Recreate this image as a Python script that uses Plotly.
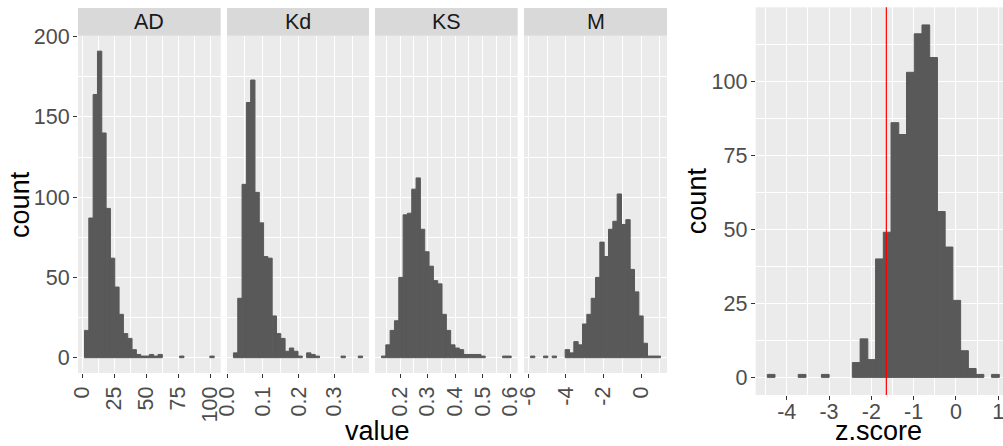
import plotly.graph_objects as go

# ---------------- data ----------------
facet_names = ["AD", "Kd", "KS", "M"]

# histogram bins (30 bins each): first bin left edge, bin width, counts
ad_start, ad_width = 1.9, 3.379
ad_counts = [17, 87, 164, 191, 140, 93, 62, 44, 27, 15, 12, 5, 2, 1, 1,
             2, 1, 2, 0, 0, 0, 0, 1, 0, 0, 0, 0, 0, 0, 1]

kd_start, kd_width = 0.0178, 0.01203
kd_counts = [3, 37, 108, 159, 173, 103, 84, 63, 62, 26, 15, 12, 4, 6, 4,
             1, 0, 3, 2, 1, 0, 0, 0, 0, 0, 1, 0, 0, 0, 1]

ks_start, ks_width = 0.1327, 0.01572
ks_counts = [1, 8, 17, 23, 50, 89, 90, 105, 112, 80, 66, 57, 48, 46, 27,
             17, 8, 6, 5, 2, 2, 2, 2, 1, 0, 0, 0, 0, 1, 1]

m_start, m_width = -5.883, 0.2307
m_counts = [1, 0, 0, 1, 0, 1, 0, 0, 5, 3, 10, 8, 21, 27, 37,
            50, 72, 63, 80, 85, 102, 83, 86, 55, 41, 26, 9, 1, 1, 1]

z_start, z_width = -4.459, 0.1828
z_counts = [1, 0, 0, 0, 1, 0, 0, 1, 0, 0, 0, 5, 13, 6, 40,
            49, 86, 82, 103, 116, 119, 108, 56, 44, 26, 9, 3, 1, 0, 1]
z_threshold = -1.645

left_yticks = [0, 50, 100, 150, 200]
right_yticks = [0, 25, 50, 75, 100]
ad_xticks = [0, 25, 50, 75, 100]
kd_xticks = [0.0, 0.1, 0.2, 0.3]
ks_xticks = [0.2, 0.3, 0.4, 0.5, 0.6]
m_xticks = [-6, -4, -2, 0]
z_xticks = [-4, -3, -2, -1, 0, 1]

# ---------------- styling / layout ----------------
W, H = 1003, 446
BAR = "#595959"
PANEL = "#EBEBEB"
STRIP = "#D9D9D9"
TICKCOL = "#4D4D4D"
FONT = "Liberation Sans, Arial, sans-serif"
TICKFS = 21.5
TITLEFS = 27


def px_x(p):
    return p / W


def px_y(p):
    return 1 - p / H


def centers(start, width, counts):
    return [start + (i + 0.5) * width for i in range(len(counts))]


def hist_range(start, width, counts):
    total = width * len(counts)
    return [start - 0.05 * total, start + 1.05 * total]


def fmt_ticks(vals, decimals):
    # ggplot style labels with an ASCII hyphen as the minus sign
    return [f"{v:.{decimals}f}" for v in vals]


facet_px = [(78, 220.7), (227, 369), (375, 517.7), (524, 667)]
facet_top, facet_bot = 35.8, 373.0
strip_top = 8.0
right_px = (755.7, 1010.9)
right_top, right_bot = 7.3, 395.0

fig = go.Figure()

facet_data = [
    (ad_start, ad_width, ad_counts, ad_xticks, 0),
    (kd_start, kd_width, kd_counts, kd_xticks, 1),
    (ks_start, ks_width, ks_counts, ks_xticks, 1),
    (m_start, m_width, m_counts, m_xticks, 0),
]

left_ymax = max(max(c) for _, _, c, _, _ in facet_data)
left_yrange = [-0.05 * left_ymax, 1.05 * left_ymax]

axis_common = dict(
    showgrid=True, gridcolor="white", gridwidth=1.1,
    zeroline=False, showline=False, automargin=False,
    ticks="outside", ticklen=4, tickwidth=1.07, tickcolor="#333333",
    tickfont=dict(family=FONT, size=TICKFS, color=TICKCOL),
)


def bar_trace(st, wd, cnt, xa, ya):
    return go.Bar(
        x=centers(st, wd, cnt), y=cnt, width=wd,
        marker=dict(color=BAR,
                    line=dict(color=BAR, width=[1.0 if c > 0 else 0 for c in cnt])),
        xaxis=xa, yaxis=ya, showlegend=False, hoverinfo="x+y",
    )


shapes = []
annotations = []

for i, (st, wd, cnt, xt, dec) in enumerate(facet_data):
    n = i + 1
    xa = "x" if n == 1 else f"x{n}"
    ya = "y" if n == 1 else f"y{n}"
    fig.add_trace(bar_trace(st, wd, cnt, xa, ya))
    dtick = xt[1] - xt[0]
    xr = hist_range(st, wd, cnt)
    xaxis = dict(
        axis_common,
        domain=[px_x(facet_px[i][0]), px_x(facet_px[i][1])],
        anchor=ya, range=xr, tickvals=xt, ticktext=fmt_ticks(xt, dec),
        tickangle=-90, ticklabeloverflow="allow",
        minor=dict(dtick=dtick / 2, tick0=xt[0] - dtick / 2,
                   showgrid=True, gridcolor="white", gridwidth=0.55, ticks=""),
    )
    yaxis = dict(
        axis_common,
        domain=[px_y(facet_bot), px_y(facet_top)],
        anchor=xa, range=left_yrange, tickvals=left_yticks,
        ticklabelstandoff=-1,
        minor=dict(dtick=25, tick0=25, showgrid=True, gridcolor="white",
                   gridwidth=0.55, ticks=""),
    )
    if n > 1:
        yaxis["showticklabels"] = False
        yaxis["ticks"] = ""
    fig.layout["xaxis" if n == 1 else f"xaxis{n}"] = xaxis
    fig.layout["yaxis" if n == 1 else f"yaxis{n}"] = yaxis

    # strip
    shapes.append(dict(type="rect", xref="paper", yref="paper",
                       x0=px_x(facet_px[i][0]), x1=px_x(facet_px[i][1]),
                       y0=px_y(facet_top), y1=px_y(strip_top),
                       fillcolor=STRIP, line=dict(width=0), layer="below"))
    annotations.append(dict(xref="paper", yref="paper",
                            x=px_x((facet_px[i][0] + facet_px[i][1]) / 2),
                            y=px_y((facet_top + strip_top) / 2),
                            text=facet_names[i], showarrow=False,
                            xanchor="center", yanchor="middle",
                            font=dict(family=FONT, size=TICKFS, color="#1A1A1A")))

# right panel: z.score histogram
fig.add_trace(bar_trace(z_start, z_width, z_counts, "x5", "y5"))
z_full = hist_range(z_start, z_width, z_counts)
# the right panel is cut at the right edge of the image
vis_frac = (W - right_px[0]) / (right_px[1] - right_px[0])
z_vis = [z_full[0], z_full[0] + vis_frac * (z_full[1] - z_full[0])]
z_ymax = max(z_counts)
fig.layout["xaxis5"] = dict(
    axis_common,
    domain=[px_x(right_px[0]), 1.0], anchor="y5", range=z_vis,
    tickvals=z_xticks, ticktext=fmt_ticks(z_xticks, 0), tickangle=0,
    ticklabeloverflow="allow", ticklabelstandoff=-7,
    minor=dict(dtick=0.5, tick0=-4.5, showgrid=True, gridcolor="white",
               gridwidth=0.55, ticks=""),
)
fig.layout["yaxis5"] = dict(
    axis_common,
    domain=[px_y(right_bot), px_y(right_top)], anchor="x5",
    range=[-0.05 * z_ymax, 1.05 * z_ymax], tickvals=right_yticks,
    ticklabelstandoff=-1,
    minor=dict(dtick=12.5, tick0=12.5, showgrid=True, gridcolor="white",
               gridwidth=0.55, ticks=""),
)
shapes.append(dict(type="line", xref="x5", yref="y5 domain",
                   x0=z_threshold, x1=z_threshold, y0=0, y1=1,
                   line=dict(color="#FF0000", width=1.2), layer="above"))

# axis titles
title_font = dict(family=FONT, size=TITLEFS, color="black")
annotations += [
    dict(xref="paper", yref="paper", x=px_x(20.5), y=px_y((facet_top + facet_bot) / 2),
         text="count", textangle=-90, showarrow=False, xanchor="center",
         yanchor="middle", font=title_font),
    dict(xref="paper", yref="paper", x=px_x(697), y=px_y((right_top + right_bot) / 2),
         text="count", textangle=-90, showarrow=False, xanchor="center",
         yanchor="middle", font=title_font),
    dict(xref="paper", yref="paper", x=px_x(377), y=px_y(431),
         text="value", showarrow=False, xanchor="center",
         yanchor="middle", font=title_font),
    dict(xref="paper", yref="paper", x=px_x(878), y=px_y(431),
         text="z.score", showarrow=False, xanchor="center",
         yanchor="middle", font=title_font),
]

fig.update_layout(
    width=W, height=H, margin=dict(l=0, r=0, t=0, b=0, pad=0),
    paper_bgcolor="white", plot_bgcolor=PANEL,
    shapes=shapes, annotations=annotations,
    barmode="overlay", showlegend=False,
    font=dict(family=FONT),
)

fig.write_html(
    "out.html",
    config={"displayModeBar": False},
    post_script="document.body.style.margin='0';document.body.style.overflow='hidden';",
)
